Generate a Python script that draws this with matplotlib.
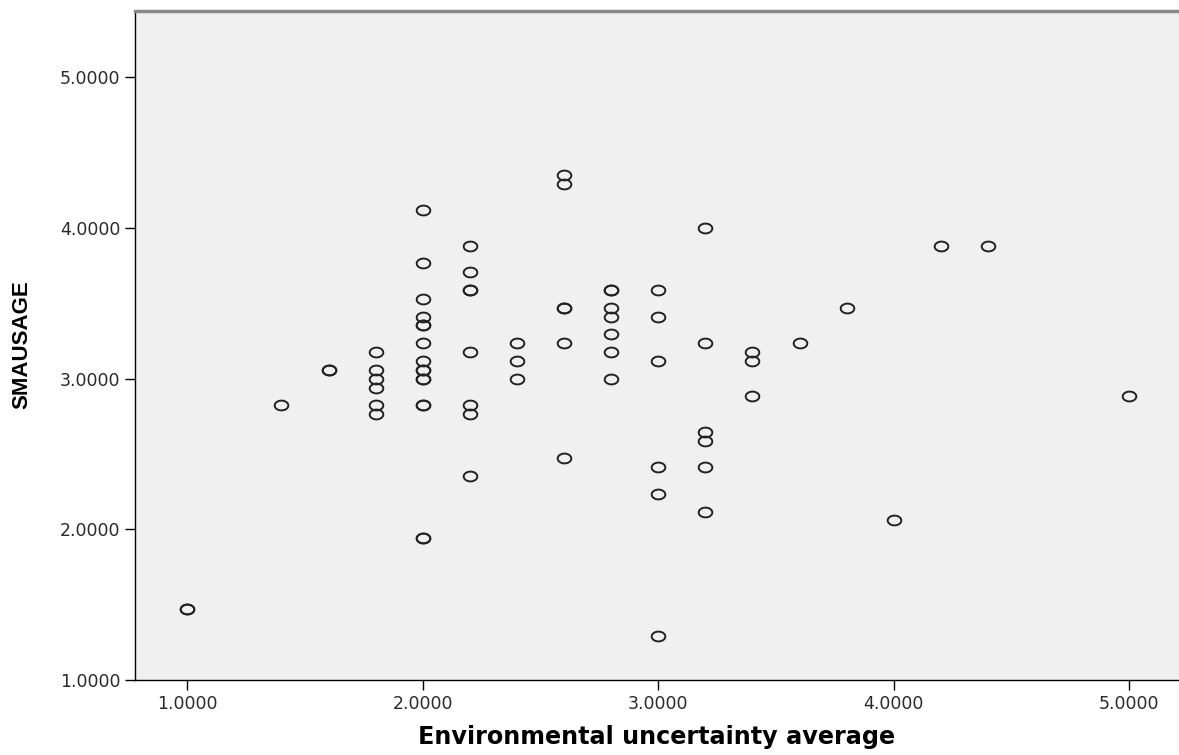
import numpy as np
import matplotlib.pyplot as plt
from matplotlib.path import Path

# Environmental uncertainty average (x) vs SMAUSAGE (y)
env_unc = [1.0, 1.0,
           1.4,
           1.6, 1.6,
           1.8, 1.8, 1.8, 1.8, 1.8, 1.8,
           2.0, 2.0, 2.0, 2.0, 2.0, 2.0, 2.0, 2.0, 2.0, 2.0, 2.0, 2.0, 2.0, 2.0, 2.0, 2.0,
           2.2, 2.2, 2.2, 2.2, 2.2, 2.2, 2.2, 2.2,
           2.4, 2.4, 2.4,
           2.6, 2.6, 2.6, 2.6, 2.6, 2.6,
           2.8, 2.8, 2.8, 2.8, 2.8, 2.8, 2.8,
           3.0, 3.0, 3.0, 3.0, 3.0, 3.0,
           3.2, 3.2, 3.2, 3.2, 3.2, 3.2,
           3.4, 3.4, 3.4,
           3.6, 3.8, 4.0, 4.2, 4.4, 5.0]
smausage = [1.4706, 1.4706,
            2.8235,
            3.0588, 3.0588,
            3.1765, 3.0588, 3.0000, 2.9412, 2.8235, 2.7647,
            4.1176, 3.7647, 3.5294, 3.4118, 3.3529, 3.3529, 3.2353, 3.1176,
            3.0588, 3.0588, 3.0000, 3.0000, 2.8235, 2.8235, 1.9412, 1.9412,
            3.8824, 3.7059, 3.5882, 3.5882, 3.1765, 2.8235, 2.7647, 2.3529,
            3.2353, 3.1176, 3.0000,
            4.3529, 4.2941, 3.4706, 3.4706, 3.2353, 2.4706,
            3.5882, 3.5882, 3.4706, 3.4118, 3.2941, 3.1765, 3.0000,
            3.5882, 3.4118, 3.1176, 2.4118, 2.2353, 1.2941,
            4.0000, 3.2353, 2.6471, 2.5882, 2.4118, 2.1176,
            3.1765, 3.1176, 2.8824,
            3.2353, 3.4706, 2.0588, 3.8824, 3.8824, 2.8824]

x_ticks = [1.0, 2.0, 3.0, 4.0, 5.0]
y_ticks = [1.0, 2.0, 3.0, 4.0, 5.0]

# flat ellipse marker like the SPSS one
t = np.linspace(0, 2 * np.pi, 60)
ellipse = Path(np.column_stack([np.cos(t), 0.72 * np.sin(t)]), closed=True)

fig = plt.figure(figsize=(11.79, 7.55), dpi=100)
W, H = 1179, 755
ax = fig.add_axes([135 / W, (H - 680) / H, (W - 135) / W, (680 - 11) / H])
ax.set_facecolor('#f0f0f0')

ax.plot(env_unc, smausage, linestyle='none', marker=ellipse, markersize=9.8,
        markerfacecolor='none', markeredgecolor='#222222', markeredgewidth=1.4)

ax.set_xlim(0.778, 5.211)
ax.set_ylim(1.0, 5.44)
ax.set_xticks(x_ticks)
ax.set_yticks(y_ticks)
ax.set_xticklabels([f'{v:.4f}' for v in x_ticks])
ax.set_yticklabels([f'{v:.4f}' for v in y_ticks])
ax.tick_params(direction='out', length=7.5, width=1.0, color='black',
               labelsize=12.5, pad=3, labelcolor='#2a2a2a')

for s in ['left', 'bottom']:
    ax.spines[s].set_color('black')
    ax.spines[s].set_linewidth(1.0)
ax.spines['top'].set_color('#888888')
ax.spines['top'].set_linewidth(2.5)
ax.spines['right'].set_visible(False)

fig.text(657 / W, 1 - 737 / H, 'Environmental uncertainty average',
         ha='center', va='center', fontsize=17.2, fontweight='bold',
         family='DejaVu Sans')
fig.text(22 / W, 1 - 345 / H, 'SMAUSAGE', ha='center', va='center',
         rotation=90, fontsize=16, fontweight='bold',
         family=['Liberation Sans Narrow', 'Liberation Sans'])

fig.savefig('out.png', dpi=100)
